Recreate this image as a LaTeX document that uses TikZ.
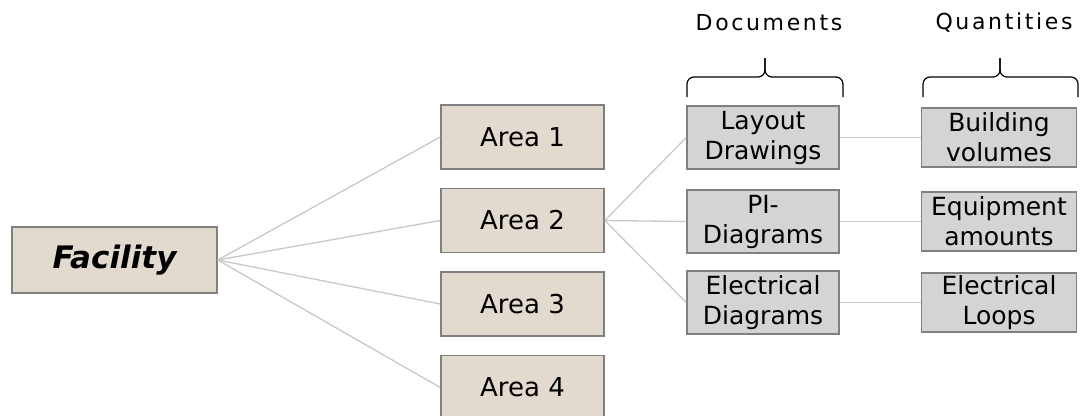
\documentclass[tikz,border=0pt]{standalone}
\usepackage{fontspec}
\setmainfont{DejaVu Sans}
\usetikzlibrary{positioning}
\definecolor{areaFill}{RGB}{226,218,207}
\definecolor{docFill}{RGB}{212,212,212}
\definecolor{boxEdge}{RGB}{128,128,128}
\definecolor{linkGray}{RGB}{200,200,200}

\begin{document}
\begin{tikzpicture}[x=1pt, y=-1pt,
    areabox/.style={draw=boxEdge, line width=1.5pt, fill=areaFill, inner sep=0pt,
        minimum width=163pt, minimum height=64pt, font=\fontsize{26}{31}\selectfont},
    docbox/.style={draw=boxEdge, line width=1.5pt, fill=docFill, inner sep=0pt, align=center,
        minimum width=152pt, minimum height=63pt, font=\fontsize{25}{30}\selectfont},
    qtybox/.style={docbox, minimum width=155pt, minimum height=59pt},
    head/.style={font=\fontsize{22}{26}\selectfont\addfontfeature{LetterSpace=12}},
    link/.style={draw=linkGray, line width=1.3pt},
    bracket/.style={draw=black, line width=1.2pt, rounded corners=7pt}]
    \useasboundingbox (0,0) rectangle (1089,415);

    % Root
    \node[areabox, minimum width=205pt, minimum height=66pt,
          font=\fontsize{31}{36}\selectfont\bfseries\itshape] (fac) at (114.5,260) {Facility};

    % Areas
    \node[areabox] (a1) at (522.5,137) {Area 1};
    \node[areabox, below=18pt of a1] (a2) {Area 2};
    \node[areabox, below=18pt of a2] (a3) {Area 3};
    \node[areabox, below=18pt of a3] (a4) {Area 4};

    % Documents of Area 2
    \node[docbox] (ld) at (763,137.5) {Layout\\Drawings};
    \node[docbox] (pi) at (763,221.5) {PI-\\Diagrams};
    \node[docbox] (ed) at (763,302.5) {Electrical\\Diagrams};

    % Quantities
    \node[qtybox, right=81pt of ld] (bv) {Building\\volumes};
    \node[qtybox, right=81pt of pi] (ea) {Equipment\\amounts};
    \node[qtybox, right=81pt of ed] (el) {Electrical\\Loops};

    % Links
    \foreach \a in {a1,a2,a3,a4}
        \draw[link] (fac.east) -- (\a.west);
    \foreach \d in {ld,pi,ed}
        \draw[link] (a2.east) -- (\d.west);
    \draw[link] (ld) -- (bv);
    \draw[link] (pi) -- (ea);
    \draw[link] (ed) -- (el);

    % Headings with braces
    \node[head] (dochead) at (769,23) {Documents};
    \node[head] (qtyhead) at (1004,23) {Quantities};
    \draw[bracket] (687,97) -- (687,77) -- (765,77) -- (765,58);
    \draw[bracket] (843,97) -- (843,77) -- (765,77) -- (765,58);
    \draw[bracket] (923,97) -- (923,77) -- (1000,77) -- (1000,58);
    \draw[bracket] (1078,97) -- (1078,77) -- (1000,77) -- (1000,58);
\end{tikzpicture}
\end{document}
